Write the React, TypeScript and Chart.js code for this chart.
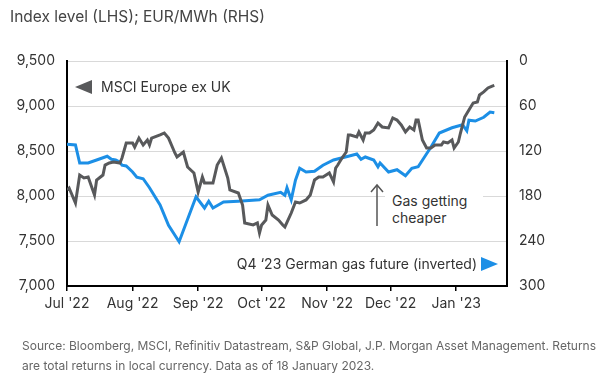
import React, { useEffect, useRef } from "react";
import { Chart, registerables } from "chart.js";

Chart.register(...registerables);

// x values: days since 1 Jul 2022
const monthTickDays = [0, 31, 62, 92, 123, 153, 184];
const monthLabels = ["Jul '22", "Aug '22", "Sep '22", "Oct '22", "Nov '22", "Dec '22", "Jan '23"];

const msciDays = [0, 1, 4, 6, 8, 10, 13, 14, 17, 18, 20, 22, 25, 26, 28, 31, 32, 34, 36, 38, 39, 40, 44, 46, 48, 51, 52, 55, 57, 60, 62, 64, 65, 69, 71, 73, 76, 77, 81, 83, 84, 88, 90, 91, 92, 94, 95, 97, 100, 102, 103, 106, 108, 110, 113, 115, 117, 119, 121, 124, 126, 127, 128, 130, 132, 133, 134, 137, 138, 140, 141, 143, 145, 147, 149, 152, 154, 156, 158, 160, 162, 164, 165, 166, 168, 170, 172, 174, 177, 178, 180, 182, 183, 185, 186, 188, 190, 192, 194, 195, 197, 199, 201, 202];
const msciValues = [8067, 8089, 7922, 8233, 8200, 8211, 8011, 8178, 8233, 8344, 8367, 8378, 8367, 8422, 8589, 8589, 8544, 8644, 8567, 8622, 8567, 8644, 8678, 8700, 8644, 8478, 8433, 8489, 8322, 8256, 8044, 8211, 8144, 8144, 8344, 8422, 8200, 8067, 8033, 7900, 7700, 7678, 7700, 7589, 7678, 7733, 7900, 7789, 7733, 7678, 7656, 7811, 7933, 7922, 7956, 8011, 8178, 8211, 8211, 8256, 8156, 8311, 8344, 8422, 8489, 8678, 8678, 8656, 8711, 8622, 8700, 8700, 8733, 8811, 8767, 8756, 8867, 8844, 8789, 8711, 8767, 8733, 8844, 8844, 8622, 8533, 8533, 8567, 8567, 8600, 8589, 8622, 8533, 8600, 8700, 8878, 8956, 9033, 9044, 9122, 9156, 9200, 9222, 9230];

const gasDays = [0, 4, 6, 10, 14, 19, 21, 23, 25, 26, 28, 31, 33, 36, 39, 44, 48, 53, 61, 65, 67, 69, 74, 81, 91, 95, 101, 103, 104, 106, 108, 110, 113, 117, 121, 126, 133, 137, 139, 141, 145, 147, 148, 152, 156, 160, 163, 166, 169, 172, 176, 182, 187, 189, 190, 193, 197, 200, 202];
const gasValues = [111, 112, 136, 136, 132, 127, 131, 132, 135, 139, 140, 148, 155, 157, 169, 192, 219, 241, 181, 196, 187, 196, 188, 187, 185, 179, 175, 179, 169, 185, 159, 143, 148, 147, 139, 132, 127, 124, 131, 128, 132, 141, 136, 148, 145, 153, 143, 141, 128, 115, 96, 89, 85, 93, 79, 80, 75, 68, 69];

const FONT = "Inter, 'DejaVu Sans', sans-serif";
const GRAY = "#58595b";
const BLUE = "#1c8fe6";

export default function App() {
  const ref = useRef<HTMLCanvasElement>(null);
  useEffect(() => {
    const canvas = ref.current;
    if (!canvas) return;
    const chart = new Chart(canvas, {
      type: "line",
      data: {
        datasets: [
          {
            label: "MSCI Europe ex UK",
            data: msciDays.map((d, i) => ({ x: d, y: msciValues[i] })),
            yAxisID: "y",
            borderColor: GRAY,
            borderWidth: 3,
            pointRadius: 0,
            tension: 0,
          },
          {
            label: "Q4 '23 German gas future (inverted)",
            data: gasDays.map((d, i) => ({ x: d, y: gasValues[i] })),
            yAxisID: "y2",
            borderColor: BLUE,
            borderWidth: 3,
            pointRadius: 0,
            tension: 0,
          },
        ],
      },
      options: {
        responsive: false,
        animation: false,
        devicePixelRatio: 1,
        layout: { padding: { top: 61, left: 0, right: 0, bottom: 0 } },
        plugins: { legend: { display: false }, tooltip: { enabled: false } },
        scales: {
          x: {
            type: "linear",
            min: 0,
            max: 208,
            afterBuildTicks: (s: any) => {
              s.ticks = monthTickDays.map((v) => ({ value: v }));
            },
            afterFit: (s: any) => {
              s.height = 96;
            },
            ticks: {
              autoSkip: false,
              maxRotation: 0,
              padding: 4,
              color: "#333",
              font: { family: FONT, size: 14 },
              callback: (_v: any, i: number) => monthLabels[i],
            },
            grid: { drawOnChartArea: false, drawTicks: true, tickLength: 5, color: "#000", lineWidth: 1.5 },
            border: { display: true, color: "#000", width: 2 },
          },
          y: {
            type: "linear",
            position: "left",
            min: 7000,
            max: 9500,
            afterFit: (s: any) => {
              s.width = 67;
            },
            ticks: {
              stepSize: 500,
              padding: 12,
              color: "#333",
              font: { family: FONT, size: 14 },
              callback: (v: any) => Number(v).toLocaleString("en-US"),
            },
            grid: { color: "#d9d9d9", lineWidth: 1, drawTicks: false },
            border: { display: true, color: "#000", width: 2 },
          },
          y2: {
            type: "linear",
            position: "right",
            min: 0,
            max: 300,
            reverse: true,
            afterFit: (s: any) => {
              s.width = 93;
            },
            ticks: {
              stepSize: 60,
              padding: 12,
              color: "#333",
              font: { family: FONT, size: 14 },
            },
            grid: { drawOnChartArea: false, drawTicks: false },
            border: { display: true, color: "#000", width: 2 },
          },
        },
      },
    });
    return () => chart.destroy();
  }, []);

  const txt: React.CSSProperties = {
    position: "absolute",
    fontFamily: FONT,
    whiteSpace: "nowrap",
    lineHeight: 1,
  };

  return (
    <div style={{ position: "absolute", left: 0, top: 0, width: 600, height: 382, background: "#fff", overflow: "hidden" }}>
      <canvas ref={ref} width={600} height={382} style={{ position: "absolute", left: 0, top: 0 }} />
      <div style={{ ...txt, left: 10, top: 9, fontSize: 15.5, color: "#444" }}>Index level (LHS); EUR/MWh (RHS)</div>
      <div style={{ ...txt, left: 75, top: 80, fontSize: 14, color: "#333", display: "flex", alignItems: "center" }}>
        <span style={{ display: "inline-block", width: 0, height: 0, borderTop: "7px solid transparent", borderBottom: "7px solid transparent", borderRight: "17px solid " + GRAY, marginRight: 9 }} />
        <span>MSCI Europe ex UK</span>
      </div>
      <div style={{ ...txt, right: 102, top: 257, fontSize: 14, color: "#333", display: "flex", alignItems: "center" }}>
        <span>Q4 ‘23 German gas future (inverted)</span>
        <span style={{ display: "inline-block", width: 0, height: 0, borderTop: "7px solid transparent", borderBottom: "7px solid transparent", borderLeft: "17px solid " + BLUE, marginLeft: 4 }} />
      </div>
      <div style={{ ...txt, left: 385, top: 190, width: 98, height: 36, background: "#fff" }} />
      <div style={{ ...txt, left: 392, top: 192, fontSize: 14, color: "#333", lineHeight: "17px" }}>
        Gas getting
        <br />
        cheaper
      </div>
      <svg width={14} height={46} style={{ position: "absolute", left: 370, top: 182 }}>
        <line x1={7} y1={3} x2={7} y2={44} stroke="#555" strokeWidth={1.5} />
        <polyline points="1,10 7,3 13,10" fill="none" stroke="#555" strokeWidth={1.5} />
      </svg>
      <div style={{ ...txt, left: 22, top: 336, fontSize: 12, color: "#666", lineHeight: "20px", whiteSpace: "normal", width: 575 }}>
        Source: Bloomberg, MSCI, Refinitiv Datastream, S&amp;P Global, J.P. Morgan Asset Management. Returns are total returns in local currency. Data as of 18 January 2023.
      </div>
    </div>
  );
}
